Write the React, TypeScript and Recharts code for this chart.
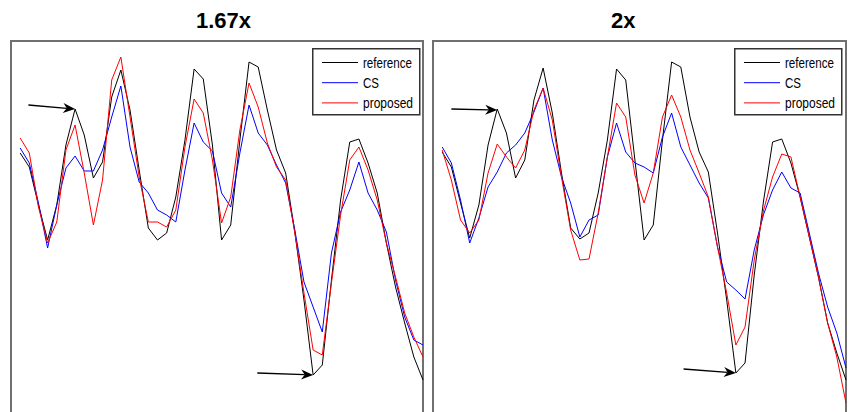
import React from 'react';
import { LineChart, Line, XAxis, YAxis, ReferenceArea, ReferenceLine } from 'recharts';

// sample index along the x axis
const steps = [
  1, 2, 3, 4, 5, 6, 7, 8, 9, 10, 11, 12, 13, 14, 15, 16, 17, 18, 19, 20, 21, 22, 23,
  24, 25, 26, 27, 28, 29, 30, 31, 32, 33, 34, 35, 36, 37, 38, 39, 40, 41, 42, 43, 44, 45,
];

// 1.67x panel
const reference167 = [
  26.7, 25.3, 21.5, 18.0, 21.5, 27.5, 31.1, 28.5, 24.2, 25.8, 32.3, 35.0, 31.0, 25.0, 19.2,
  18.0, 18.7, 22.3, 28.0, 35.1, 34.1, 27.5, 18.0, 19.5, 28.0, 35.8, 35.3, 31.0, 27.0, 24.7,
  18.8, 12.0, 4.5, 5.5, 14.0, 22.0, 27.8, 28.1, 25.7, 22.7, 17.7, 13.3, 9.7, 6.3, 4.0,
];
const cs167 = [
  27.2, 25.7, 21.7, 17.2, 21.5, 25.2, 26.4, 24.9, 24.9, 27.0, 30.3, 33.4, 27.3, 23.8, 22.7,
  21.0, 20.5, 19.8, 25.0, 29.7, 27.8, 26.9, 22.7, 21.3, 26.7, 31.5, 28.7, 27.5, 25.5, 23.7,
  19.0, 13.8, 11.3, 8.8, 16.7, 20.8, 23.0, 25.8, 22.7, 21.0, 18.8, 14.0, 10.3, 8.0, 7.5,
];
const proposed167 = [
  28.2, 26.7, 21.3, 17.7, 19.8, 27.0, 29.5, 24.7, 19.5, 24.0, 34.0, 36.3, 30.3, 24.3, 19.8,
  19.8, 19.3, 21.0, 27.3, 32.1, 30.7, 26.0, 19.7, 22.3, 29.0, 33.7, 31.3, 27.7, 25.3, 24.0,
  18.7, 12.7, 7.0, 6.5, 13.7, 20.5, 26.0, 27.3, 25.0, 22.0, 17.7, 14.3, 10.7, 8.3, 6.3,
];

// 2x panel
const reference2 = [
  26.8, 25.3, 21.7, 18.2, 21.5, 27.5, 31.1, 28.7, 24.2, 26.0, 32.0, 35.2, 30.7, 24.7, 19.2,
  18.1, 18.7, 22.7, 28.0, 35.1, 34.0, 26.0, 18.0, 19.5, 28.0, 35.8, 35.3, 30.3, 26.8, 24.8,
  18.7, 12.0, 4.7, 5.7, 14.5, 21.8, 27.8, 28.1, 25.7, 22.3, 18.3, 14.3, 9.7, 6.7, 4.0,
];
const cs2 = [
  27.3, 25.7, 22.0, 17.7, 20.2, 23.3, 24.8, 26.7, 27.5, 28.7, 30.8, 33.2, 28.0, 24.3, 21.7,
  18.3, 20.0, 20.5, 26.3, 29.7, 26.8, 25.7, 25.3, 24.7, 28.3, 30.7, 27.3, 25.5, 23.7, 22.2,
  17.3, 13.8, 13.0, 12.1, 17.0, 20.5, 23.0, 24.8, 23.2, 22.7, 18.7, 14.7, 11.3, 8.7, 5.2,
];
const proposed2 = [
  27.0, 24.0, 20.0, 18.7, 20.0, 24.7, 27.6, 26.3, 25.2, 27.0, 31.0, 33.2, 30.0, 24.3, 19.0,
  16.0, 16.1, 20.7, 26.3, 31.7, 30.3, 24.5, 21.7, 24.7, 30.3, 32.5, 30.3, 27.0, 24.7, 22.3,
  17.3, 12.7, 7.5, 9.3, 16.0, 20.9, 24.3, 26.6, 26.3, 22.3, 18.3, 14.3, 9.7, 6.3, 1.7,
];

// annotation arrows: [x1, y1, x2, y2] in data units
const arrows167 = [
  [1.9, 31.5, 7, 31.1],
  [26.9, 4.7, 33, 4.5],
];
const arrows2 = [
  [2.0, 31.1, 7, 31.0],
  [27.3, 5.1, 33, 4.7],
];

const legendItems = [
  { name: 'reference', color: '#000000', len: 49 },
  { name: 'CS', color: '#0000ff', len: 16 },
  { name: 'proposed', color: '#ff0000', len: 50 },
];

const Y_MAX = 37.9;
const FONT = '"Liberation Sans", Arial, sans-serif';

const makeRows = (ref: number[], cs: number[], prop: number[]) =>
  steps.map((s, k) => ({ step: s, reference: ref[k], cs: cs[k], proposed: prop[k] }));

const ArrowShape = (p: any) => {
  const { x1, y1, x2, y2 } = p;
  const a = Math.atan2(y2 - y1, x2 - x1);
  const L = 12;
  const W = 5;
  const bx = x2 - L * Math.cos(a);
  const by = y2 - L * Math.sin(a);
  const nx = x2 - L * 0.7 * Math.cos(a);
  const ny = y2 - L * 0.7 * Math.sin(a);
  const px = -Math.sin(a) * W;
  const py = Math.cos(a) * W;
  return (
    <g>
      <line x1={x1} y1={y1} x2={nx} y2={ny} stroke="#000" strokeWidth={1.3} />
      <polygon
        points={`${x2},${y2} ${bx + px},${by + py} ${nx},${ny} ${bx - px},${by - py}`}
        fill="#000"
      />
    </g>
  );
};

const ChartLegend = ({ left, top }: { left: number; top: number }) => (
  <svg
    width={109}
    height={68}
    style={{ position: 'absolute', left, top, overflow: 'visible' }}
  >
    <rect x={0.75} y={0.75} width={107} height={66} fill="#fff" stroke="#333" strokeWidth={1.5} />
    {legendItems.map((it, k) => (
      <g key={it.name}>
        <line x1={10} x2={46} y1={14.5 + k * 20.2} y2={14.5 + k * 20.2} stroke={it.color} strokeWidth={1} />
        <text
          x={51}
          y={19.5 + k * 20.2}
          fontFamily={FONT}
          fontSize={14}
          textLength={it.len}
          lengthAdjust="spacingAndGlyphs"
          fill="#000"
        >
          {it.name}
        </text>
      </g>
    ))}
  </svg>
);

const Panel = ({
  rows,
  arrows,
  left,
  width,
  margin,
}: {
  rows: any[];
  arrows: number[][];
  left: number;
  width: number;
  margin: { top: number; right: number; bottom: number; left: number };
}) => (
  <div style={{ position: 'absolute', left, top: 0 }}>
    <LineChart width={width} height={430} data={rows} margin={margin}>
      <XAxis type="number" dataKey="step" domain={[0, 45]} hide />
      <YAxis type="number" domain={[0, Y_MAX]} hide />
      <ReferenceArea x1={0} x2={45} y1={0} y2={Y_MAX} fill="none" stroke="#707070" strokeWidth={2} />
      <Line type="linear" dataKey="reference" stroke="#000000" strokeWidth={1} dot={false} isAnimationActive={false} />
      <Line type="linear" dataKey="cs" stroke="#0000ff" strokeWidth={1} dot={false} isAnimationActive={false} />
      <Line type="linear" dataKey="proposed" stroke="#ff0000" strokeWidth={1} dot={false} isAnimationActive={false} />
      {arrows.map((a, k) => (
        <ReferenceLine
          key={k}
          segment={[
            { x: a[0], y: a[1] },
            { x: a[2], y: a[3] },
          ]}
          shape={ArrowShape}
        />
      ))}
    </LineChart>
  </div>
);

export default function App() {
  const titleStyle: React.CSSProperties = {
    position: 'absolute',
    top: 9.7,
    fontFamily: FONT,
    fontWeight: 'bold',
    fontSize: 22,
    lineHeight: '22px',
    color: '#000',
    whiteSpace: 'nowrap',
  };
  return (
    <div
      style={{
        position: 'fixed',
        left: 0,
        top: 0,
        width: 851,
        height: 412,
        overflow: 'hidden',
        background: '#fff',
      }}
    >
      <Panel
        rows={makeRows(reference167, cs167, proposed167)}
        arrows={arrows167}
        left={0}
        width={425}
        margin={{ top: 41, right: 2, bottom: 10, left: 11 }}
      />
      <Panel
        rows={makeRows(reference2, cs2, proposed2)}
        arrows={arrows2}
        left={425}
        width={426}
        margin={{ top: 41, right: 5, bottom: 10, left: 8 }}
      />
      <div style={{ ...titleStyle, left: 196 }}>1.67x</div>
      <div style={{ ...titleStyle, left: 611 }}>2x</div>
      <ChartLegend left={312} top={48} />
      <ChartLegend left={734} top={48} />
    </div>
  );
}
